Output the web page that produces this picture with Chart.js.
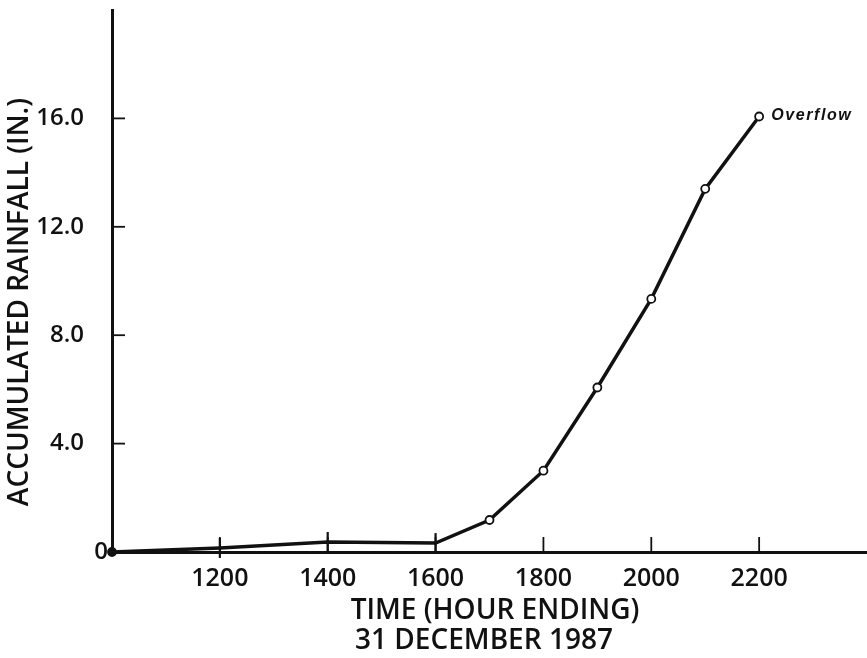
<!DOCTYPE html>
<html>
<head>
<meta charset="utf-8">
<script src="https://cdn.jsdelivr.net/npm/chart.js@4/dist/chart.umd.min.js"></script>
<style>
  body { margin: 0; background: #fff; }
  #wrap { width: 867px; height: 658px; }
</style>
</head>
<body>
<div id="wrap"><canvas id="rainChart" width="867" height="658"></canvas></div>
<script>
// hour ending, 31 December 1987
const hours = [1000, 1200, 1400, 1600, 1700, 1800, 1900, 2000, 2100, 2200];
// accumulated rainfall, inches
const rainfall = [0, 0.15, 0.37, 0.33, 1.18, 3.0, 6.07, 9.34, 13.4, 16.07];
const xTicks = [1200, 1400, 1600, 1800, 2000, 2200];
const yTicks = [0, 4, 8, 12, 16];

const ink = '#111';
const labelFont = { family: "'Open Sans', sans-serif", size: 25, weight: '600' };

// marker per point: dot at start, bars for the early gauge readings, open circles after
const isBar = h => h > 1000 && h <= 1600;
const markerStyle = hours.map(h => isBar(h) ? 'line' : 'circle');
const markerRadius = hours.map(h => h === 1000 ? 4 : (isBar(h) ? 10 : 4));
const markerFill = hours.map(h => h === 1000 ? ink : '#fff');
const markerRot = hours.map(h => isBar(h) ? 90 : 0);

const extras = {
  id: 'extras',
  afterDraw(chart) {
    const ctx = chart.ctx;
    const xs = chart.scales.x, ys = chart.scales.y;
    const area = chart.chartArea;
    ctx.save();
    ctx.strokeStyle = ink;
    ctx.lineWidth = 1.8;
    // short ticks pointing into the plot
    xTicks.forEach(v => {
      const px = xs.getPixelForValue(v);
      ctx.beginPath();
      ctx.moveTo(px, area.bottom);
      ctx.lineTo(px, area.bottom - 15);
      ctx.stroke();
    });
    yTicks.filter(v => v > 0).forEach(v => {
      const py = ys.getPixelForValue(v);
      ctx.beginPath();
      ctx.moveTo(area.left, py);
      ctx.lineTo(area.left + 13, py);
      ctx.stroke();
    });

    ctx.fillStyle = ink;
    ctx.font = "600 28px 'Open Sans', sans-serif";
    ctx.textAlign = 'center';
    ctx.textBaseline = 'middle';
    ctx.fillText('TIME (HOUR ENDING)', 495, 611);
    ctx.fillText('31 DECEMBER 1987', 484, 641);

    ctx.translate(20, 302);
    ctx.rotate(-Math.PI / 2);
    ctx.fillText('ACCUMULATED RAINFALL (IN.)', 0, 0);
    ctx.restore();

    // note at the last reading
    const last = hours.length - 1;
    ctx.save();
    ctx.fillStyle = ink;
    ctx.font = "italic bold 16px 'Liberation Sans', sans-serif";
    ctx.letterSpacing = '1.6px';
    ctx.textBaseline = 'middle';
    ctx.fillText('Overflow', xs.getPixelForValue(hours[last]) + 12, ys.getPixelForValue(rainfall[last]) - 1);
    ctx.restore();
  }
};

new Chart(document.getElementById('rainChart'), {
  type: 'line',
  data: {
    datasets: [{
      data: hours.map((h, i) => ({ x: h, y: rainfall[i] })),
      borderColor: ink,
      borderWidth: 3.5,
      tension: 0,
      pointStyle: markerStyle,
      pointRadius: markerRadius,
      pointRotation: markerRot,
      pointBackgroundColor: markerFill,
      pointBorderColor: ink,
      pointBorderWidth: hours.map(h => isBar(h) ? 2.2 : 1.8),
      clip: false
    }]
  },
  options: {
    responsive: false,
    animation: false,
    layout: { autoPadding: false, padding: { top: 10, right: 0, left: 0, bottom: 0 } },
    plugins: { legend: { display: false }, tooltip: { enabled: false } },
    scales: {
      x: {
        type: 'linear',
        min: 1000,
        max: 2400,
        grid: { display: false, drawTicks: false },
        border: { display: true, color: ink, width: 3 },
        ticks: {
          stepSize: 200,
          padding: 12,
          color: ink,
          font: labelFont,
          callback: v => xTicks.includes(v) ? String(v) : ''
        },
        afterFit: s => {
          s.height = 106;
          s.paddingLeft = 0;
          s.paddingRight = 0;
        }
      },
      y: {
        min: 0,
        max: 20,
        grid: { display: false, drawTicks: false },
        border: { display: true, color: ink, width: 3 },
        ticks: {
          stepSize: 4,
          padding: 4,
          color: ink,
          font: { family: "'Open Sans', sans-serif", size: 24, weight: '600' },
          callback: v => v === 0 ? '0' : (yTicks.includes(v) ? v.toFixed(1) + '\u2003' : '')
        },
        afterFit: s => {
          s.width = 112;
          s.paddingTop = 0;
          s.paddingBottom = 0;
        }
      }
    }
  },
  plugins: [extras]
});
</script>
</body>
</html>
